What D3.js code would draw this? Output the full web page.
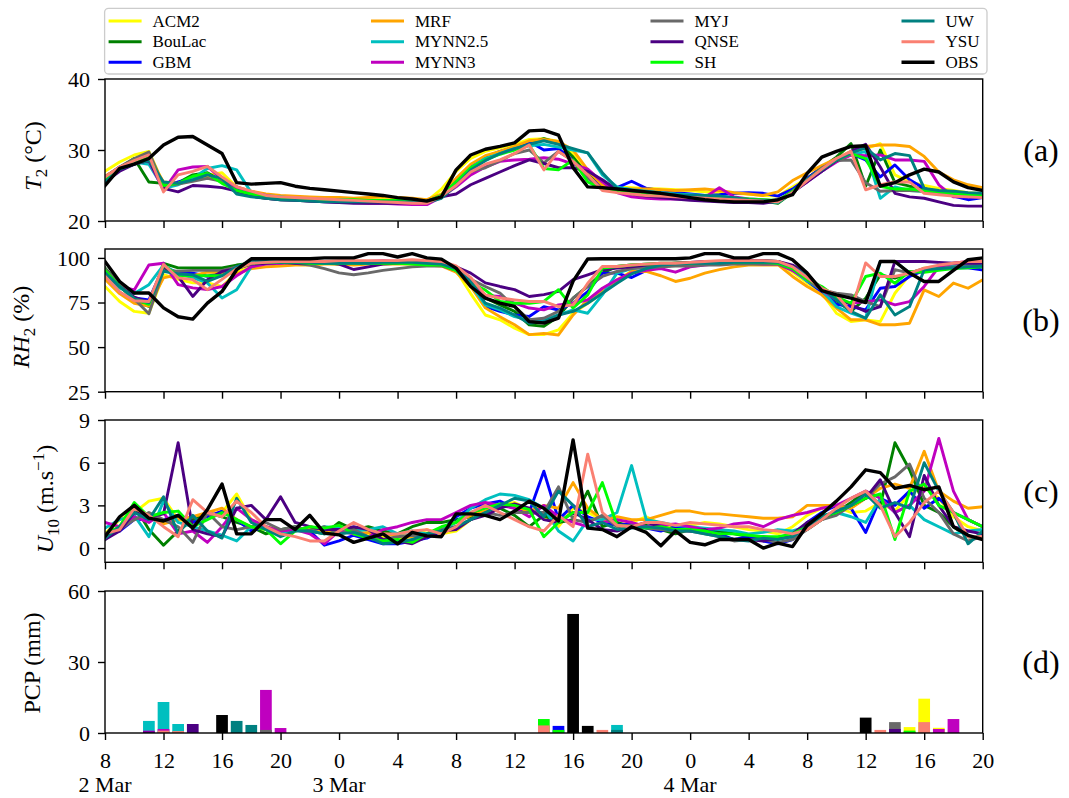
<!DOCTYPE html>
<html><head><meta charset="utf-8">
<script src="https://cdn.jsdelivr.net/npm/d3@7"></script>
<style>
body{margin:0;background:#fff;}
svg{display:block;}
text{font-family:"Liberation Serif","Times New Roman",serif;fill:#000;}
</style>
</head><body>
<svg id="chart" width="1069" height="798"></svg>
<script>
// ---------------- DATA ----------------
const models = ["ACM2","BouLac","GBM","MRF","MYNN2.5","MYNN3","MYJ","QNSE","SH","UW","YSU","OBS"];
const colors = ["#ffff00","#008000","#0000ff","#ffa500","#00bfbf","#bf00bf","#696969","#4b0082","#00ff00","#008080","#fa8072","#000000"];
const xTickHours = [0,4,8,12,16,20,24,28,32,36,40,44,48,52,56,60];
const xTickLabels = ["8","12","16","20","0","4","8","12","16","20","0","4","8","12","16","20"];
const dateHours = [0,16,40];
const dateLabels = ["2 Mar","3 Mar","4 Mar"];
const yTicksT2 = [20,30,40];
const yTicksRH = [25,50,75,100];
const yTicksU10 = [0,3,6,9];
const yTicksPCP = [0,30,60];

// T2 (°C), hourly from 2 Mar 08:00 to 4 Mar 20:00
const t2ACM2   = [27.0,28.3,29.3,29.8,25.2,25.3,26.0,26.5,26.8,24.8, 24.0,23.6,23.4,23.3,23.2,23.2,23.1,23.1,23.0,23.0, 23.0,22.9,22.8,24.5,27.0,28.8,29.8,30.3,30.8,31.5, 31.6,31.2,29.5,26.8,25.0,24.8,24.7,24.6,24.5,24.4, 24.3,24.1,24.0,23.9,23.8,23.6,23.5,24.8,26.0,27.5, 28.8,29.8,30.2,30.9,26.5,25.5,25.0,24.6,24.3,24.0,23.8];
const t2BouLac = [26.0,27.5,28.8,25.5,25.3,25.4,26.5,26.8,25.6,24.4, 23.8,23.5,23.3,23.2,23.1,23.0,23.0,22.9,22.9,22.9, 22.9,22.8,22.7,23.5,25.8,27.8,28.8,29.5,30.3,31.0, 31.6,31.0,29.0,26.5,24.8,24.4,24.2,24.0,23.8,23.6, 23.5,23.4,23.3,23.2,23.0,22.8,22.5,24.0,26.0,27.5, 29.0,30.9,24.9,30.0,25.4,24.9,24.5,24.2,24.0,23.7,23.5];
const t2GBM    = [26.2,27.6,28.3,28.7,24.7,25.5,26.0,26.3,25.8,24.5, 23.8,23.4,23.2,23.0,22.9,22.8,22.8,22.7,22.7,22.7, 22.7,22.7,22.6,23.5,25.8,27.8,29.0,29.8,30.4,31.2, 30.0,30.2,28.5,26.2,24.8,24.7,25.6,24.6,24.3,24.0, 23.8,23.6,23.7,23.9,24.0,23.9,23.5,24.5,26.0,27.5, 28.8,29.5,28.6,26.2,27.9,25.8,24.6,24.0,23.5,23.0,23.3];
const t2MRF    = [26.3,27.5,28.5,29.0,25.5,25.3,26.0,26.2,26.0,24.8, 24.2,23.8,23.6,23.5,23.4,23.3,23.3,23.2,23.3,23.4, 23.3,23.2,23.0,23.8,26.0,28.0,29.2,29.8,30.5,31.3, 31.5,31.2,30.0,27.2,25.0,24.6,24.5,24.5,24.4,24.3, 24.4,24.5,24.3,24.0,23.8,23.6,24.1,25.7,26.8,27.8, 28.8,29.6,30.5,30.7,30.7,30.5,29.1,26.9,25.8,25.1,24.7];
const t2MYNN25 = [26.0,27.3,28.3,28.0,24.6,25.1,26.0,27.4,27.8,27.2, 24.0,23.6,23.4,23.2,23.1,23.0,23.0,22.9,22.9,22.9, 22.9,22.8,22.8,23.5,25.5,27.5,28.8,29.5,30.2,30.6, 30.8,30.4,30.0,29.6,26.5,24.8,24.4,24.2,24.0,23.8, 23.7,23.6,23.5,23.3,23.0,22.8,22.6,24.0,25.8,27.0, 28.5,29.3,29.8,23.2,24.8,24.3,24.2,24.0,23.9,23.8,23.8];
const t2MYNN3  = [26.0,27.2,28.0,28.5,24.3,27.2,27.6,27.7,25.9,24.8, 24.0,23.6,23.2,23.0,22.8,22.7,22.6,22.6,22.5,22.5, 22.4,22.3,22.3,23.4,24.8,26.5,27.6,28.4,28.6,28.7, 28.9,28.7,28.0,27.3,25.5,24.0,23.4,23.2,23.1,23.1, 23.1,23.3,24.7,23.4,23.1,23.0,22.8,24.2,25.5,27.0, 28.3,29.3,29.2,29.3,28.6,28.6,28.4,25.1,23.4,23.4,23.4];
const t2MYJ    = [26.2,27.6,28.8,29.7,25.0,25.2,25.6,26.0,25.6,24.2, 23.5,23.2,23.0,22.9,22.8,22.8,22.8,22.8,22.9,22.9, 22.9,22.8,22.7,23.3,25.5,27.0,27.5,28.5,29.5,30.0, 28.2,29.8,28.5,26.0,24.5,24.2,24.0,23.8,23.6,23.4, 23.3,23.2,23.1,23.0,22.9,22.8,22.7,24.0,25.8,27.5, 28.5,28.6,25.4,24.2,24.3,24.3,24.2,24.0,23.8,23.6,23.5];
const t2QNSE   = [25.5,27.0,28.0,28.5,24.6,24.1,25.0,24.9,24.7,24.2, 23.5,23.2,23.0,22.9,22.8,22.7,22.6,22.5,22.5,22.5, 22.5,22.6,22.8,23.4,23.8,25.1,26.0,26.9,27.8,28.6, 28.1,27.5,27.5,27.0,25.8,24.4,23.8,23.5,23.3,23.1, 22.9,22.8,22.7,22.6,22.6,22.5,22.8,24.0,25.5,27.0, 28.5,29.8,30.8,27.6,23.9,23.4,23.2,22.7,22.2,22.1,22.1];
const t2SH     = [26.0,27.4,28.5,29.0,25.0,25.3,26.3,26.7,25.3,24.3, 23.8,23.5,23.3,23.2,23.1,23.0,23.0,23.0,22.9,22.9, 22.9,22.8,22.7,23.6,25.5,27.5,28.6,29.4,30.0,30.7, 27.4,27.2,28.6,25.5,24.5,24.2,24.0,23.9,23.8,23.6, 23.5,23.4,23.3,23.2,23.1,23.0,22.9,24.2,25.8,27.3, 28.6,29.5,28.8,24.9,24.5,24.5,24.3,24.1,23.9,23.7,23.6];
const t2UW     = [25.5,27.3,28.0,28.5,25.5,25.3,25.8,26.5,26.0,23.8, 23.4,23.2,23.0,22.9,22.8,22.7,22.7,22.7,22.7,22.7, 22.7,22.7,22.6,23.2,25.0,27.2,28.5,29.5,30.2,30.8, 31.3,30.8,30.2,29.6,26.8,24.6,24.3,24.1,23.9,23.7, 23.6,23.6,23.5,23.3,23.0,22.9,22.7,24.0,25.8,27.2, 28.6,29.6,30.3,28.6,29.5,29.2,24.6,24.3,24.2,24.0,23.9];
const t2YSU    = [26.2,27.6,28.5,29.3,24.1,26.5,27.0,27.7,26.2,24.8, 24.2,23.6,23.4,23.3,23.2,23.1,23.0,22.9,22.8,22.7, 22.6,22.5,22.5,23.5,25.0,26.9,28.0,28.6,29.5,30.7, 27.2,29.8,28.4,26.5,24.3,24.0,23.8,23.6,23.5,23.4, 23.3,23.2,23.1,23.0,22.9,22.8,22.7,24.0,25.7,27.3, 28.8,29.8,24.4,25.1,25.5,25.5,23.9,23.7,23.5,23.4,23.3];
const t2OBS    = [25.0,27.4,28.0,28.8,30.7,31.8,31.9,30.7,29.5,25.4, 25.2,25.3,25.4,24.9,24.6,24.4,24.2,24.0,23.8,23.6, 23.3,23.1,22.8,23.4,27.2,29.3,30.1,30.5,31.0,32.7, 32.8,32.1,27.5,24.8,24.7,24.5,24.3,24.1,23.9,23.6, 23.3,23.0,22.8,22.7,22.7,22.7,23.0,23.7,26.7,29.0, 29.8,30.5,30.6,24.9,25.4,26.5,27.3,26.9,25.5,24.7,24.3];

// RH2 (%)
const rhACM2   = [84,75.6,70,69,90.6,88,86,86,84,92, 96,96.5,97,97,97.5,97.5,97,97,97.5,97.5, 98,98,97.5,97,93,80,68,65.3,60.6,57, 57,59.6,69,74.6,80.2,87.7,92.4,92.4,95,96, 96.5,97,97,97.5,97.5,98,97.5,92,86,80.2, 69,64.3,65.3,64.3,80.2,90.5,94.3,95.5,97,97.5,98];
const rhBouLac = [94.4,85,76,72.8,97,94.4,94.4,94.4,94.4,96, 97,97.5,97.5,97.5,97,97,96.5,96.5,97,97, 97,97.5,97,96.5,94,87,77.5,73.7,70,62.5, 61.6,67.1,77.4,84,91.5,95.2,96,96.5,97,97, 97.5,97.5,98,98,98,98.5,98,95,88,82, 76,70,77.4,90.5,88.7,91.5,94,94.5,94.5,95,95.5];
const rhGBM    = [92.5,84,77.5,76.5,95,91.6,91.5,89.7,91.5,95, 97,97.5,97,97,97.5,97.5,97,96.5,97,97, 97.5,97,97,96.5,93,86,72.8,70,68,67.2, 72.7,70.8,74.6,81.1,91.5,91.5,89,93,95,96, 96.5,97,97,97.5,97.5,97.5,97,94,87,81, 74,72.7,70.9,83,84,89.6,93,94,94.5,94.5,93.3];
const rhMRF    = [88,80,74.5,73,88.8,90.6,90,92,92,91, 94,95,95.5,96,96,96.5,96.5,96,96.5,96.5, 96.5,96.5,96,95.5,92,84,72,67,62.5,57, 57.7,56.8,68,76.5,82,86.8,92.4,92.4,90,86.8, 88.6,91.5,93.4,95,96,96,96.2,89.6,84,79.3, 71.9,65.3,65.3,62.5,62.5,63.4,82.1,78.4,85.9,83,87.7];
const rhMYNN25 = [90,83,80,85,96,91,89,86,77.5,82.2, 95,97.5,97.5,97.5,97,97,97.5,97.5,97,97, 97.5,97.5,97,96.5,93,85,73.7,70.9,67.1,65.3, 65.3,68,70.9,69,79.3,91.5,94,95,96,96, 96.5,97,97,97.5,97.5,97.5,97,93,87,82, 72.7,69,66.2,98,98,91.5,94,95,96,96,96];
const rhMYNN3  = [92,84,82,96,97,85,83.2,82.2,84,90, 95,96.5,97,97.5,97.5,98,98,98,98,98.5, 98,98,97.5,97,94,88,79,78.4,74.6,71.9, 70.9,73.7,74.6,76.5,83,87.7,91.5,93,94,92, 95,96,97,97,97,96.5,96.5,93,88,82, 76.5,74.6,75.5,76.5,73.7,75.5,84,95,97,98,98];
const rhMYJ    = [94,85,77,68.7,93,92.5,93,93,93,95, 97,97.5,97.5,97,96,94,91.6,90.6,91.6,93, 94,95,95.5,95.5,93,88,84,80.3,72.7,65.3, 66.2,70,77.4,84,89.6,92.4,94,94.5,95,95.5, 95.5,96,96,96.5,96.5,96.5,96.5,94,88,82, 80.2,79.3,75.5,72.7,93.4,91.5,93,94,95,95.5,96];
const rhQNSE   = [92,84,78,75,95,89.7,78.4,87.8,92.4,94, 96.5,97,97.5,97,97,97.5,96.5,93.5,95,96.5, 97,97.5,97,96.5,95,91.5,86,84,82.2,78.4, 79.4,81.2,87.8,90.5,93.4,94.3,95,96,96.5,97, 97.5,98,98,98.5,98.5,98.5,98,96,91,82, 78.4,73.7,70,72.7,98,98,98,97.5,97,97,97];
const rhSH     = [93,84,77,74,96,90,90,90,90,94, 97,97.5,97.5,97.5,97,97,97,97,97,97, 97,96.5,96,96,93,86,82,75.6,74.6,74.6, 75.6,82.2,71.9,79.3,94.3,95.2,96,96.5,96.5,97, 97,97.5,97.5,97.5,97.5,97.5,97,94,88,84, 78,74.6,89.6,91.5,85.8,92.4,92,93,94,94.5,95];
const rhUW     = [91.6,84,77,75,92.5,91,90.5,86.9,90,95, 98,98,97.5,97.5,97.5,97,97,97,97,97.5, 97.5,97.5,97,96.5,94,87,74.6,71.9,68,63.4, 64.3,68,70,74.6,80.2,85.8,91,94,96,96.5, 97,97,97,97.5,97.5,97.5,97.5,95,90,83, 76.5,70,66.2,79.3,68,72.7,93.4,94,94.5,95,95.5];
const rhYSU    = [89.7,81,76,75.6,96.3,88.8,87.8,82.2,88,94, 97,97.5,98,98,98,98,98.5,98.5,98.5,98.5, 98.5,99,98.5,98,95.5,89,79.3,77.5,76.5,75.6, 75.6,72.7,73.7,85.8,95.2,95.2,96,96.5,97,97, 97.5,98,98.5,98.5,98.5,98.5,98,95,89,83, 79.3,69.9,97.2,89.6,89.6,91.5,94.3,96,97,98,98];
const rhOBS    = [98,86.8,80.3,80.3,72,67,65.7,74.7,81.2,93.4, 99.5,99.5,99.5,99.5,99.5,100,100,100,102.4,102.4, 100.5,102.4,100,99.3,94.3,84,77.5,74.7,72.8,64.3, 63.5,66.2,87,99.4,99.5,99.5,99.5,99.5,99.5,99.5, 100,102.4,102.4,100,100,102.4,102.4,99,91.5,81.7, 79.3,77.5,75,98,98,91.5,86.8,86.8,93,99,100];

// U10 (m/s)
const u10ACM2   = [1.0,2.0,2.5,3.3,3.5,2.0,1.8,2.3,2.5,3.8, 2.0,1.5,1.3,1.2,1.5,1.3,1.0,1.2,1.0,0.8, 0.6,0.8,1.3,1.0,1.2,2.0,2.8,3.0,3.2,2.7, 2.2,1.5,2.8,2.5,2.0,1.6,1.8,2.2,1.7,1.5, 1.6,1.8,1.7,1.5,1.3,1.2,1.0,1.5,2.3,2.8, 2.9,2.5,2.6,3.2,2.6,3.8,4.3,3.5,2.2,1.5,1.2];
const u10BouLac = [0.6,1.5,3.0,1.3,0.2,1.2,2.0,2.5,2.2,1.8, 1.5,1.0,1.3,1.5,1.2,1.0,1.8,1.3,1.5,1.2, 1.0,1.5,1.8,1.8,2.0,2.2,3.0,2.8,2.3,1.5, 2.3,1.8,2.0,4.0,1.5,1.8,1.5,1.6,1.3,1.0, 1.3,1.2,1.2,1.0,0.8,0.8,0.7,0.8,1.3,2.0, 2.5,3.2,4.0,3.0,7.4,5.5,3.0,2.5,1.5,0.8,0.7];
const u10GBM    = [1.0,1.2,2.0,2.0,2.0,2.3,1.8,2.2,2.6,2.0, 1.2,1.5,1.0,1.3,1.2,0.2,0.5,0.9,0.6,0.3, 0.3,0.5,0.7,1.2,2.2,2.8,3.1,3.3,2.8,2.5, 5.4,2.0,3.0,2.2,1.8,1.6,1.7,1.4,1.2,1.5, 1.4,1.3,1.0,0.6,0.8,0.5,0.3,0.6,1.8,2.5, 3.0,2.8,1.1,3.5,3.0,4.0,2.8,3.5,2.5,2.0,1.5];
const u10MRF    = [1.0,1.5,2.0,2.3,1.7,2.0,2.2,2.5,2.8,2.0, 1.5,1.3,1.2,1.3,1.4,1.2,1.3,1.0,1.1,1.0, 0.9,0.8,0.8,1.3,1.8,2.3,2.6,3.0,2.9,2.6, 3.0,2.8,4.6,2.8,2.0,2.2,2.0,2.0,2.3,2.6, 2.6,2.4,2.4,2.3,2.2,2.1,2.1,2.2,3.0,3.0, 3.0,2.8,3.5,4.2,4.5,4.2,6.8,4.0,3.3,2.8,2.9];
const u10MYNN25 = [1.4,2.0,2.3,0.8,3.3,1.8,1.5,1.2,0.9,0.5, 1.5,1.5,1.0,1.3,1.2,1.5,1.4,1.2,1.3,1.5, 1.0,1.2,1.0,1.3,1.8,2.8,3.4,3.8,3.7,3.4, 2.8,1.2,0.5,2.0,2.0,2.5,5.8,2.0,1.8,1.6, 1.5,1.4,1.3,1.2,1.0,1.1,1.3,1.2,1.5,2.3, 2.5,2.2,1.8,3.5,2.5,3.0,2.0,1.5,1.0,1.2,1.3];
const u10MYNN3  = [1.8,1.5,2.2,1.8,2.5,1.0,1.2,0.4,1.5,2.8, 2.0,1.5,1.2,1.3,1.0,0.3,1.2,1.0,0.8,1.3, 1.5,1.8,2.0,2.0,2.5,3.0,3.2,3.0,2.8,2.2, 3.0,2.2,1.8,1.5,1.8,2.0,1.8,1.5,1.6,1.7, 1.5,1.3,1.4,1.7,1.8,1.5,2.0,2.3,2.5,2.8, 3.0,3.5,4.0,3.5,2.5,3.0,4.0,7.7,4.0,2.0,1.5];
const u10MYJ    = [0.8,1.3,2.0,2.5,2.0,1.5,0.4,2.5,1.5,1.3, 1.5,1.8,1.3,1.5,1.2,1.5,1.0,1.3,0.8,0.6, 0.8,0.9,0.8,1.3,1.5,2.0,2.5,2.3,2.5,2.5, 2.5,4.3,2.0,1.8,2.3,1.5,1.6,1.4,1.3,1.2, 1.2,1.0,0.8,0.5,0.6,0.6,0.4,0.6,1.3,2.0, 2.3,3.0,3.5,4.5,5.0,5.9,3.5,2.5,1.0,0.5,0.8];
const u10QNSE   = [0.6,1.2,2.5,2.2,2.4,7.4,1.3,1.0,0.8,2.8, 3.0,2.0,3.6,1.8,1.5,1.3,1.3,1.5,1.3,0.6, 0.5,0.3,0.8,1.2,1.3,2.0,2.3,2.8,3.1,2.8, 2.0,1.8,2.5,2.0,1.3,1.2,1.5,1.8,1.5,1.3, 1.2,1.3,0.8,0.6,0.6,0.5,0.7,1.0,1.8,2.2, 2.5,3.0,3.5,4.8,2.5,0.8,5.1,3.0,1.5,1.2,1.0];
const u10SH     = [1.0,1.5,3.2,2.2,2.5,2.6,1.5,2.0,2.5,2.0, 1.5,1.3,0.3,1.2,1.5,1.4,1.6,1.0,0.7,0.5, 0.6,0.4,1.0,1.5,1.8,2.5,2.8,3.1,3.0,2.7, 0.8,1.8,2.5,2.5,4.6,1.6,1.5,1.4,1.5,1.3, 1.3,1.2,1.0,1.0,0.9,0.8,0.8,1.0,1.5,2.2, 2.5,3.0,3.5,3.8,0.6,4.0,4.5,3.0,2.5,2.0,1.5];
const u10UW     = [0.7,1.5,2.5,2.0,3.6,1.0,2.3,1.2,0.7,3.5, 1.8,1.3,0.8,1.2,1.2,1.0,1.0,1.1,0.8,0.3, 0.4,0.6,1.0,1.2,1.5,2.0,2.5,3.0,3.5,3.3, 2.2,4.0,3.0,1.5,1.8,1.3,1.4,1.5,1.4,1.2, 1.2,1.0,0.8,0.6,0.5,0.7,0.6,0.8,1.5,2.2, 2.6,3.0,3.8,2.8,3.2,2.8,6.0,4.0,2.5,0.3,1.2];
const u10YSU    = [1.0,1.3,2.8,2.3,1.5,0.8,3.4,2.5,2.2,3.3, 2.5,1.5,1.0,0.8,0.5,0.5,1.2,1.8,1.3,1.0, 1.0,1.2,1.3,1.0,1.5,2.5,3.0,2.5,2.0,1.5, 1.2,2.3,1.5,6.6,2.5,1.6,1.5,1.8,1.8,1.6, 1.8,1.7,1.6,1.5,1.5,1.3,1.2,1.0,1.3,2.0, 2.8,3.5,4.0,3.0,0.8,1.8,3.2,4.0,2.5,0.8,0.8];
const u10OBS    = [0.8,2.2,3.0,2.1,1.9,2.3,1.4,2.7,4.5,1.0, 1.0,2.0,2.0,1.3,2.3,1.05,0.93,0.4,0.7,1.0, 0.3,1.1,0.86,0.8,2.4,2.4,2.3,2.0,2.6,3.3, 2.8,1.9,7.6,1.4,1.3,0.8,1.5,1.1,0.16,1.2, 0.4,0.23,0.6,0.6,0.6,0.0,0.35,0.1,1.6,2.4, 3.3,4.3,5.5,5.3,4.2,4.4,4.1,4.3,1.5,0.9,0.6];

// PCP (mm): [hour index, value]
const pcpACM2   = [[55,2.5],[56,14.5],[57,2.2]];
const pcpBouLac = [[55,0.5]];
const pcpGBM    = [[31,3.0]];
const pcpMRF    = [];
const pcpMYNN25 = [[3,5.1],[4,13.1],[5,3.8],[35,3.4]];
const pcpMYNN3  = [[3,1.0],[4,1.7],[11,18.2],[12,2.1],[57,1.7],[58,5.9]];
const pcpMYJ    = [[11,1.3],[54,4.6]];
const pcpQNSE   = [[3,0.6],[6,3.8],[54,1.7]];
const pcpSH     = [[30,5.9],[31,1.3],[55,1.0]];
const pcpUW     = [[9,5.1],[10,3.4],[35,1.3]];
const pcpYSU    = [[4,1.0],[5,0.8],[30,3.2],[32,0.5],[34,1.3],[53,1.3],[56,4.6]];
const pcpOBS    = [[8,7.6],[32,50.3],[33,3.0],[52,6.5]];

const t2All  = [t2ACM2,t2BouLac,t2GBM,t2MRF,t2MYNN25,t2MYNN3,t2MYJ,t2QNSE,t2SH,t2UW,t2YSU,t2OBS];
const rhAll  = [rhACM2,rhBouLac,rhGBM,rhMRF,rhMYNN25,rhMYNN3,rhMYJ,rhQNSE,rhSH,rhUW,rhYSU,rhOBS];
const u10All = [u10ACM2,u10BouLac,u10GBM,u10MRF,u10MYNN25,u10MYNN3,u10MYJ,u10QNSE,u10SH,u10UW,u10YSU,u10OBS];
const pcpAll = [pcpACM2,pcpBouLac,pcpGBM,pcpMRF,pcpMYNN25,pcpMYNN3,pcpMYJ,pcpQNSE,pcpSH,pcpUW,pcpYSU,pcpOBS];

// ---------------- DRAW ----------------
const svg = d3.select("#chart");
const L = 105, R = 982.7;
const x = d3.scaleLinear().domain([0,60]).range([L,R]);
const FONT = "'Liberation Serif','Times New Roman',serif";

const panels = [
  {name:"(a)", top:79,  bottom:221,   domain:[20,40],  ticks:yTicksT2,  series:t2All,  type:"line",
   label:[{t:"T",i:1},{t:"2",sub:1},{t:" (°C)"}], lx:41, ly:156},
  {name:"(b)", top:249, bottom:391.7, domain:[25,105], ticks:yTicksRH,  series:rhAll,  type:"line",
   label:[{t:"RH",i:1},{t:"2",sub:1},{t:" (%)"}], lx:29, ly:327},
  {name:"(c)", top:420, bottom:562.3, domain:[-1,9],   ticks:yTicksU10, series:u10All, type:"line",
   label:[{t:"U",i:1},{t:"10",sub:1},{t:" (m.s"},{t:"−1",sup:1},{t:")"}], lx:53, ly:499},
  {name:"(d)", top:591, bottom:733,   domain:[0,60],   ticks:yTicksPCP, series:pcpAll, type:"bar",
   label:[{t:"PCP (mm)"}], lx:40, ly:663}
];

panels.forEach((p, pi) => {
  const y = d3.scaleLinear().domain(p.domain).range([p.bottom, p.top]);
  const g = svg.append("g");
  const clipId = "clip" + pi;
  svg.append("defs").append("clipPath").attr("id", clipId)
    .append("rect").attr("x", L).attr("y", p.top).attr("width", R - L).attr("height", p.bottom - p.top);
  const plot = g.append("g").attr("clip-path", `url(#${clipId})`);

  if (p.type === "line") {
    const line = d3.line().x((d,i) => x(i)).y(d => y(d));
    p.series.forEach((s, si) => {
      plot.append("path").datum(s)
        .attr("d", line)
        .attr("fill", "none")
        .attr("stroke", colors[si])
        .attr("stroke-width", si === 11 ? 3.4 : 2.9)
        .attr("stroke-linejoin", "round")
        .attr("stroke-linecap", "square");
    });
  } else {
    p.series.forEach((s, si) => {
      plot.selectAll(null).data(s).enter().append("rect")
        .attr("x", d => x(d[0] - 0.4))
        .attr("width", d => x(d[0] + 0.4) - x(d[0] - 0.4))
        .attr("y", d => y(d[1]))
        .attr("height", d => y(0) - y(d[1]))
        .attr("fill", colors[si]);
    });
  }

  // frame
  g.append("rect").attr("x", L).attr("y", p.top).attr("width", R - L).attr("height", p.bottom - p.top)
    .attr("fill", "none").attr("stroke", "#000").attr("stroke-width", 1.4);

  // y axis
  const ya = g.append("g").attr("transform", `translate(${L},0)`)
    .call(d3.axisLeft(y).tickValues(p.ticks).tickSize(7).tickPadding(8).tickFormat(d3.format("d")));
  ya.select(".domain").remove();
  ya.selectAll(".tick line").attr("stroke-width", 1.4);
  ya.selectAll(".tick text").attr("font-size", 22).attr("font-family", FONT).attr("dy", "0.34em");

  // x axis
  const isLast = pi === panels.length - 1;
  const xa = g.append("g").attr("transform", `translate(0,${p.bottom})`)
    .call(d3.axisBottom(x).tickValues(xTickHours).tickSize(7).tickPadding(12)
      .tickFormat((d,i) => isLast ? xTickLabels[i] : ""));
  xa.select(".domain").remove();
  xa.selectAll(".tick line").attr("stroke-width", 1.4);
  xa.selectAll(".tick text").attr("font-size", 22).attr("font-family", FONT);
  if (isLast) {
    dateHours.forEach((h, k) => {
      xa.append("text").attr("x", x(h)).attr("y", 59)
        .attr("text-anchor", "middle").attr("font-size", 22).attr("font-family", FONT)
        .attr("fill", "#000").text(dateLabels[k]);
    });
  }

  // y label
  const yl = svg.append("text")
    .attr("transform", `translate(${p.lx},${p.ly}) rotate(-90)`)
    .attr("text-anchor", "middle").attr("font-size", 24).attr("font-family", FONT);
  let shift = 0;
  p.label.forEach(part => {
    const ts = yl.append("tspan").text(part.t);
    let target = 0;
    if (part.sub) { target = 6; ts.attr("font-size", 17); }
    if (part.sup) { target = -9; ts.attr("font-size", 17); }
    if (part.i) ts.attr("font-style", "italic");
    ts.attr("dy", target - shift);
    shift = target;
  });

  // panel label
  svg.append("text").attr("x", 1041).attr("y", (p.top + p.bottom) / 2)
    .attr("text-anchor", "middle").attr("dominant-baseline", "central")
    .attr("font-size", 32).attr("font-family", FONT).text(p.name);
});

// legend
const lg = svg.append("g");
lg.append("rect").attr("x", 104.6).attr("y", 8.3).attr("width", 882.4).attr("height", 65.7)
  .attr("rx", 4).attr("fill", "#fff").attr("stroke", "#cccccc").attr("stroke-width", 1.3);
const colX = [108.6, 371, 650.5, 901.5];
const rowY = [21, 41.7, 62.3];
models.forEach((m, i) => {
  const cx = colX[Math.floor(i / 3)], cy = rowY[i % 3];
  lg.append("line").attr("x1", cx).attr("x2", cx + 33).attr("y1", cy).attr("y2", cy)
    .attr("stroke", colors[i]).attr("stroke-width", i === 11 ? 3.4 : 3.0);
  lg.append("text").attr("x", cx + 44).attr("y", cy).attr("dominant-baseline", "central")
    .attr("font-size", 17).attr("font-family", FONT).text(m);
});
</script>
</body></html>
